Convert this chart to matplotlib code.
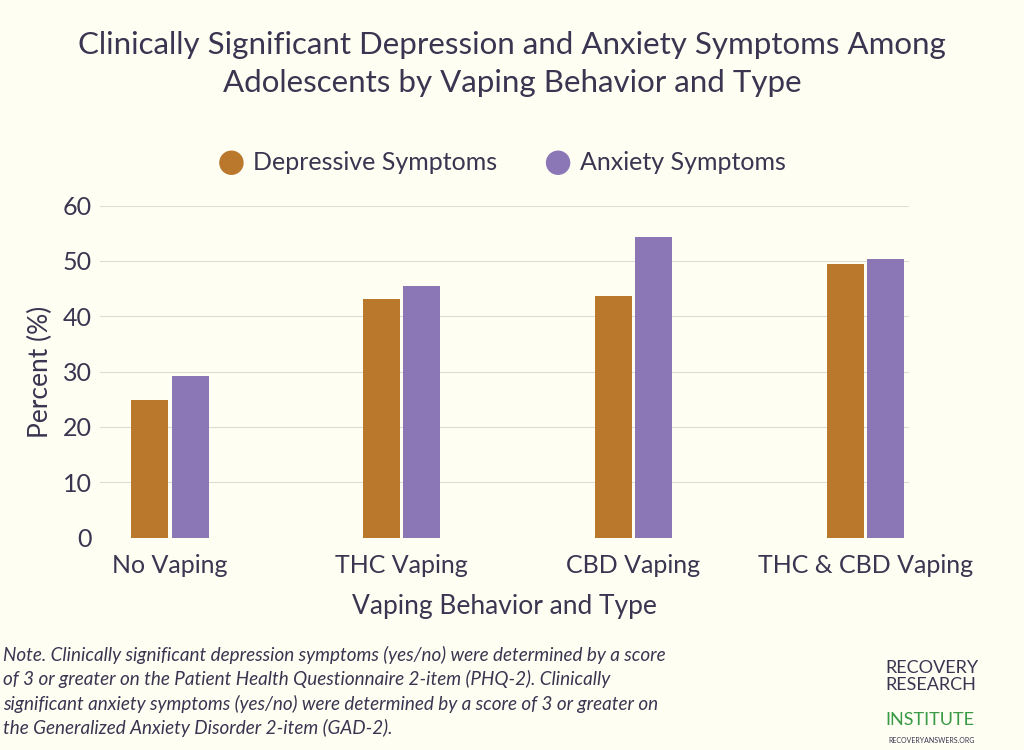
import numpy as np
import matplotlib.pyplot as plt
from matplotlib.patches import Ellipse

categories = ['No Vaping', 'THC Vaping', 'CBD Vaping', 'THC & CBD Vaping']
depressive = [24.8, 43.2, 43.6, 49.4]
anxiety = [29.2, 45.4, 54.4, 50.3]

bg = '#FEFEF3'
brown = '#BA782C'
purple = '#8C77B6'
ink = '#3A3550'

plt.rcParams['font.family'] = ['Lato', 'DejaVu Sans']
fig = plt.figure(figsize=(10.24, 7.5), dpi=100, facecolor=bg)
ax = fig.add_axes([0.098, 0.283, 0.79, 0.443], facecolor=bg)

x = np.arange(len(categories))
w = 0.16
ax.bar(x - w / 2 - 0.007, depressive, w, color=brown, zorder=3)
ax.bar(x + w / 2 + 0.007, anxiety, w, color=purple, zorder=3)

ax.set_xlim(-0.3, 3.19)
ax.set_ylim(0, 60)
ax.set_yticks(range(0, 61, 10))
ax.grid(axis='y', color='#DDDDD5', linewidth=0.8, zorder=0)
for s in ax.spines.values():
    s.set_visible(False)
ax.tick_params(axis='y', length=0, labelsize=18, colors=ink, pad=6)
ax.tick_params(axis='x', length=0, labelsize=18, colors=ink, pad=12)
ax.set_xticks(x)
ax.set_xticklabels(categories)
ax.set_ylabel('Percent (%)', fontsize=19, color=ink)
ax.yaxis.set_label_coords(-0.058, 0.5)
ax.set_xlabel('Vaping Behavior and Type', fontsize=19, color=ink, labelpad=12)

fig.text(0.5, 0.915, 'Clinically Significant Depression and Anxiety Symptoms Among\nAdolescents by Vaping Behavior and Type',
         ha='center', va='center', fontsize=22.5, color=ink, linespacing=1.45)

# legend with round markers
for xp, lbl, c in [(0.226, 'Depressive Symptoms', brown), (0.545, 'Anxiety Symptoms', purple)]:
    fig.patches.append(Ellipse((xp, 0.783), 0.0225, 0.0225 * 1024 / 750,
                               transform=fig.transFigure, color=c, figure=fig))
    fig.text(xp + 0.021, 0.783, lbl, fontsize=18, color=ink, va='center')

note = ('Note. Clinically significant depression symptoms (yes/no) were determined by a score\n'
        'of 3 or greater on the Patient Health Questionnaire 2-item (PHQ-2). Clinically\n'
        'significant anxiety symptoms (yes/no) were determined by a score of 3 or greater on\n'
        'the Generalized Anxiety Disorder 2-item (GAD-2).')
fig.text(0.003, 0.078, note, fontsize=13.6, style='italic', color=ink, va='center', linespacing=1.4)

fig.text(0.865, 0.098, 'RECOVERY\nRESEARCH', fontsize=13, color=ink, va='center', linespacing=1.1)
fig.text(0.865, 0.04, 'INSTITUTE', fontsize=13, color='#3A9A45', va='center')
fig.text(0.868, 0.013, 'RECOVERYANSWERS.ORG', fontsize=5, color=ink, va='center')

fig.savefig('out.png', dpi=100, facecolor=bg)
